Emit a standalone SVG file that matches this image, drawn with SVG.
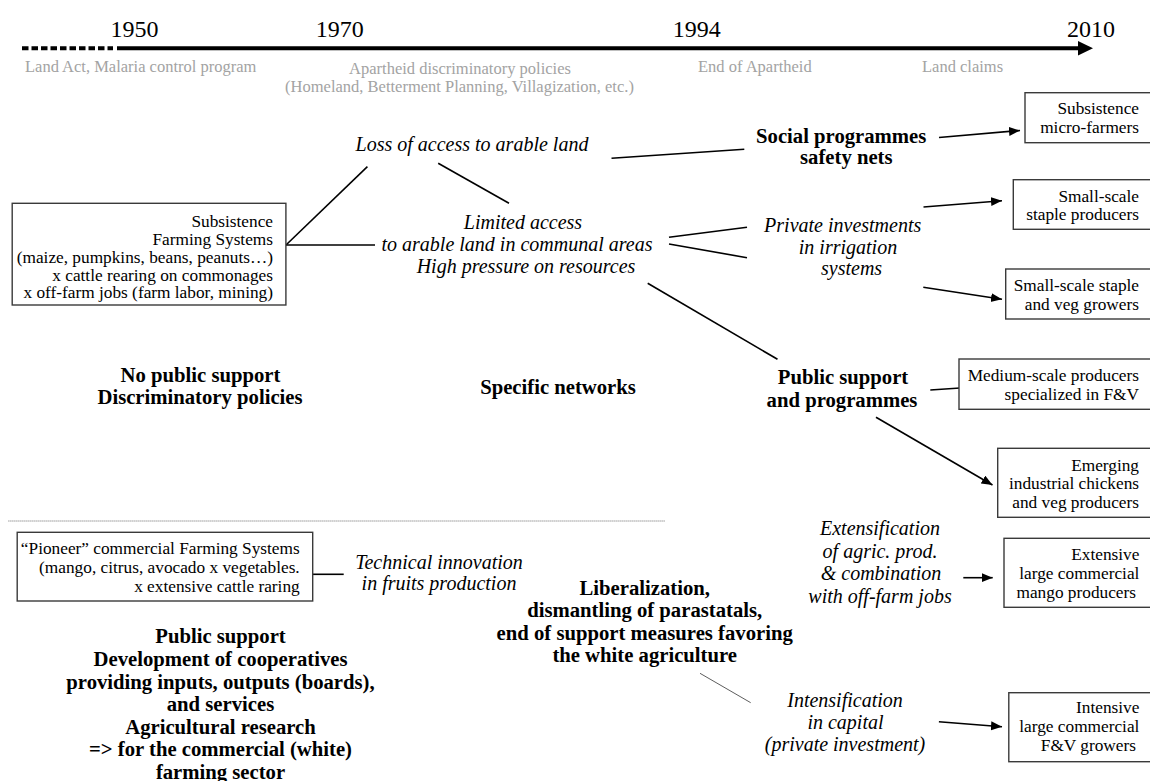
<svg xmlns="http://www.w3.org/2000/svg" width="1150" height="781" viewBox="0 0 1150 781">
<style>
text{font-family:"Liberation Serif","Times New Roman",serif;fill:#000}
.yr{font-size:24px}
.gray{font-size:16.5px;fill:#a3a3a3}
.box{fill:#fff;stroke:#3a3a3a;stroke-width:1.4}
.bt{font-size:17.3px;text-anchor:end}
.it{font-size:20px;font-style:italic;text-anchor:middle}
.bd{font-size:20.7px;font-weight:bold;text-anchor:middle}
.ln{stroke:#000;stroke-width:1.6;fill:none}
.ar{stroke:#000;stroke-width:1.6;fill:none;marker-end:url(#ah)}
</style>
<defs>
<marker id="ah" markerUnits="userSpaceOnUse" markerWidth="12" markerHeight="10" refX="11" refY="4.5" orient="auto">
<path d="M0,0 L11,4.5 L0,9 z" fill="#000"/>
</marker>
</defs>
<rect width="1150" height="781" fill="#fff"/>

<g id="timeline">
<line x1="22" y1="48.3" x2="113" y2="48.3" stroke="#000" stroke-width="4" stroke-dasharray="6.5 3"/>
<line x1="117" y1="48.3" x2="1080" y2="48.3" stroke="#000" stroke-width="4"/>
<polygon points="1078,41 1093,48.3 1078,55.6" fill="#000"/>
<text class="yr" x="110.6" y="37">1950</text>
<text class="yr" x="315.7" y="37">1970</text>
<text class="yr" x="672.7" y="37">1994</text>
<text class="yr" x="1067" y="37">2010</text>
<text class="gray" x="25" y="72">Land Act, Malaria control program</text>
<text class="gray" x="460" y="74" text-anchor="middle">Apartheid discriminatory policies</text>
<text class="gray" x="459.5" y="92" text-anchor="middle">(Homeland, Betterment Planning, Villagization, etc.)</text>
<text class="gray" x="698" y="72">End of Apartheid</text>
<text class="gray" x="922" y="72">Land claims</text>
</g>

<line id="separator" x1="8.4" y1="521" x2="665" y2="521" stroke="#666" stroke-width="1" stroke-dasharray="1 1"/>

<g id="connectors">
<line class="ln" x1="286" y1="245" x2="367.4" y2="166.7"/>
<line class="ln" x1="286" y1="245" x2="375" y2="245"/>
<line class="ln" x1="438.2" y1="163.3" x2="509" y2="203.3"/>
<line class="ln" x1="611.5" y1="158.3" x2="744.3" y2="149.3"/>
<line class="ar" x1="939" y1="137.5" x2="1020" y2="130.5"/>
<line class="ln" x1="669" y1="237.3" x2="747" y2="227.3"/>
<line class="ln" x1="669" y1="244" x2="747" y2="257.7"/>
<line class="ar" x1="923.5" y1="207" x2="1002" y2="200.7"/>
<line class="ar" x1="923.3" y1="287.3" x2="1002" y2="299.3"/>
<line class="ln" x1="647.7" y1="283.3" x2="777.5" y2="359.3"/>
<line class="ar" x1="930.3" y1="390" x2="975" y2="387"/>
<line class="ar" x1="876" y1="417.3" x2="992.5" y2="485"/>
<line class="ln" x1="312.7" y1="574.3" x2="343.7" y2="574.3"/>
<line x1="700" y1="673.3" x2="750.7" y2="702.7" stroke="#333" stroke-width="0.8"/>
<line class="ar" x1="963.3" y1="577.7" x2="992.7" y2="577.7"/>
<line class="ar" x1="938.9" y1="721.7" x2="1002" y2="726.7"/>
</g>

<g id="subsistence-fs">
<rect class="box" x="12.2" y="203.3" width="273.7" height="101.7"/>
<text class="bt" x="273" y="227">Subsistence</text>
<text class="bt" x="273" y="245">Farming Systems</text>
<text class="bt" x="273" y="263">(maize, pumpkins, beans, peanuts…)</text>
<text class="bt" x="273" y="280.5">x cattle rearing on commonages</text>
<text class="bt" x="273" y="298">x off-farm jobs (farm labor, mining)</text>
</g>

<g id="loss-access"><text class="it" x="472" y="151">Loss of access to arable land</text></g>
<g id="limited-access">
<text class="it" x="523" y="229">Limited access</text>
<text class="it" x="517" y="251">to arable land in communal areas</text>
<text class="it" x="526" y="273">High pressure on resources</text>
</g>
<g id="social-programmes">
<text class="bd" x="841.2" y="142.5">Social programmes</text>
<text class="bd" x="846.3" y="164">safety nets</text>
</g>
<g id="private-investments">
<text class="it" x="842.7" y="232">Private investments</text>
<text class="it" x="848" y="253.5">in irrigation</text>
<text class="it" x="851.6" y="275">systems</text>
</g>
<g id="public-support-programmes">
<text class="bd" x="843" y="384">Public support</text>
<text class="bd" x="842" y="406.5">and programmes</text>
</g>
<g id="no-public-support">
<text class="bd" x="200.5" y="381.5">No public support</text>
<text class="bd" x="200" y="404">Discriminatory policies</text>
</g>
<g id="specific-networks"><text class="bd" x="558" y="394">Specific networks</text></g>

<g id="micro-farmers">
<rect class="box" x="1025" y="92.7" width="130" height="50"/>
<text class="bt" x="1139" y="114.3">Subsistence</text>
<text class="bt" x="1139" y="133.3">micro-farmers</text>
</g>
<g id="staple-producers">
<rect class="box" x="1013.3" y="179.7" width="140" height="49.6"/>
<text class="bt" x="1139" y="201.5">Small-scale</text>
<text class="bt" x="1139" y="219.5">staple producers</text>
</g>
<g id="staple-veg-growers">
<rect class="box" x="1005.7" y="269" width="150" height="50"/>
<text class="bt" x="1139" y="291">Small-scale staple</text>
<text class="bt" x="1139" y="309.5">and veg growers</text>
</g>
<g id="medium-scale">
<rect class="box" x="959" y="359" width="195" height="50.3"/>
<text class="bt" x="1139" y="381">Medium-scale producers</text>
<text class="bt" x="1139" y="400">specialized in F&amp;V</text>
</g>
<g id="emerging">
<rect class="box" x="997.7" y="448.3" width="160" height="69"/>
<text class="bt" x="1139" y="470.5">Emerging</text>
<text class="bt" x="1139" y="489">industrial chickens</text>
<text class="bt" x="1139" y="507.5">and veg producers</text>
</g>

<g id="pioneer-fs">
<rect class="box" x="17.2" y="532.3" width="295.5" height="68.7"/>
<text class="bt" x="299.7" y="554">“Pioneer” commercial Farming Systems</text>
<text class="bt" x="299.7" y="573">(mango, citrus, avocado x vegetables.</text>
<text class="bt" x="299.7" y="591.7">x extensive cattle raring</text>
</g>
<g id="technical-innovation">
<text class="it" x="439" y="569">Technical innovation</text>
<text class="it" x="439" y="590">in fruits production</text>
</g>
<g id="public-support-white">
<text class="bd" x="220.5" y="643">Public support</text>
<text class="bd" x="220.5" y="666">Development of cooperatives</text>
<text class="bd" x="220.5" y="688.5">providing inputs, outputs (boards),</text>
<text class="bd" x="220.5" y="711">and services</text>
<text class="bd" x="220.5" y="733.5">Agricultural research</text>
<text class="bd" x="220.5" y="756">=&gt; for the commercial (white)</text>
<text class="bd" x="220.5" y="778.5">farming sector</text>
</g>
<g id="liberalization">
<text class="bd" x="644.7" y="595">Liberalization,</text>
<text class="bd" x="644.7" y="617.3">dismantling of parastatals,</text>
<text class="bd" x="644.7" y="640">end of support measures favoring</text>
<text class="bd" x="644.7" y="662.3">the white agriculture</text>
</g>
<g id="extensification">
<text class="it" x="880" y="535">Extensification</text>
<text class="it" x="880" y="558">of agric. prod.</text>
<text class="it" x="881" y="580">&amp; combination</text>
<text class="it" x="880" y="603">with off-farm jobs</text>
</g>
<g id="intensification">
<text class="it" x="845" y="706.5">Intensification</text>
<text class="it" x="845.5" y="728.5">in capital</text>
<text class="it" x="845" y="751">(private investment)</text>
</g>
<g id="extensive-mango">
<rect class="box" x="1004" y="538.3" width="150" height="69"/>
<text class="bt" x="1139.4" y="560">Extensive</text>
<text class="bt" x="1139.4" y="579.3">large commercial</text>
<text class="bt" x="1136" y="597.7">mango producers</text>
</g>
<g id="intensive-fv">
<rect class="box" x="1008.8" y="692.7" width="150" height="69"/>
<text class="bt" x="1139.4" y="713.3">Intensive</text>
<text class="bt" x="1139.4" y="732.3">large commercial</text>
<text class="bt" x="1136" y="750.7">F&amp;V growers</text>
</g>
</svg>
